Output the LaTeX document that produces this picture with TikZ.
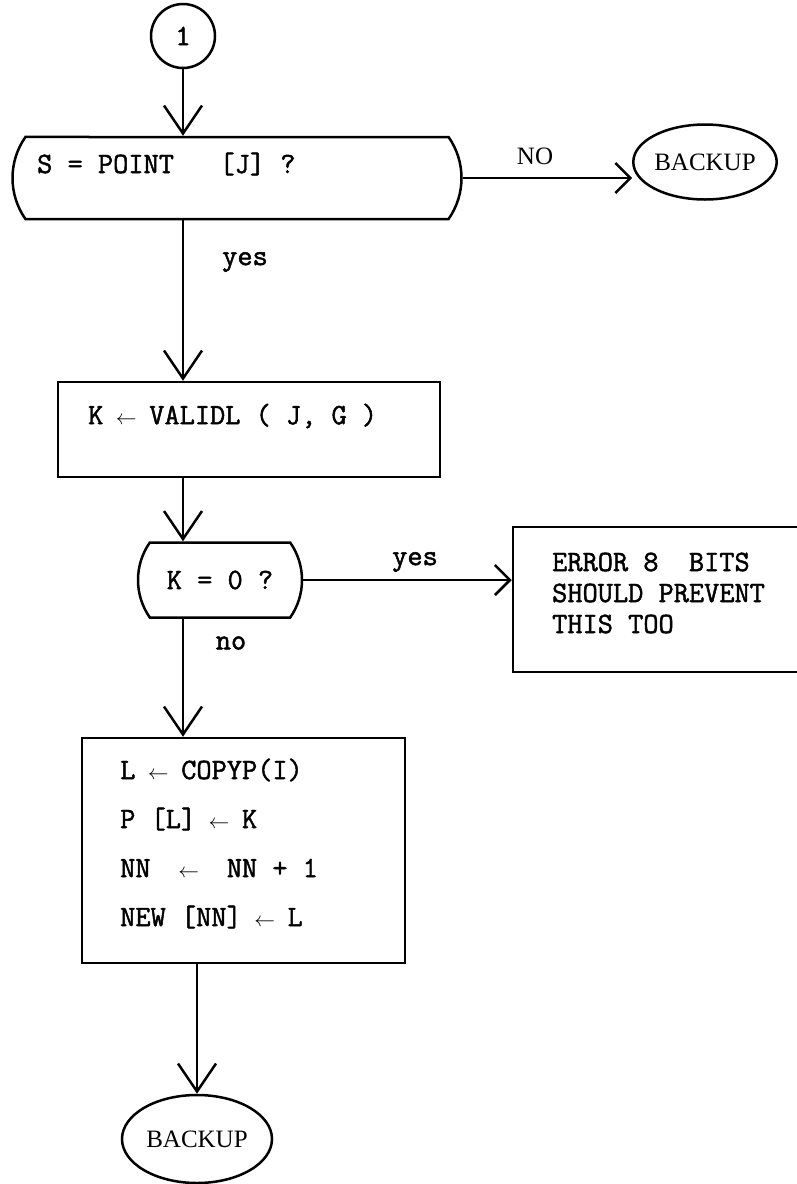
\documentclass[tikz,border=0pt]{standalone}
\usepackage{fontspec}
\setmainfont{Liberation Serif}
\setmonofont[FakeBold=1.6]{Latin Modern Mono}
\usetikzlibrary{arrows.meta,shapes.geometric,shapes.misc}
\newcommand{\lar}{\makebox[0.525em]{$\scriptstyle\leftarrow$}}
\tikzset{
  line/.style={line width=2.5pt},
  arr/.style={line,-{Straight Barb[length=28pt,width=38pt,line width=2.5pt]}},
  harr/.style={line,-{Straight Barb[length=15pt,width=30pt,line width=2.5pt]}},
  txt/.style={font=\fontsize{29.5}{31}\selectfont\ttfamily,inner sep=0pt},
  lbl/.style={font=\fontsize{25}{29}\selectfont,inner sep=0pt},
  decide/.style={line,draw,rounded rectangle,rounded rectangle arc length=70,inner sep=0pt},
  procbox/.style={line,draw,rectangle,inner sep=0pt},
  term/.style={line,draw,ellipse,inner sep=0pt}
}
\begin{document}
\begin{tikzpicture}[x=1pt,y=-1pt]
  \useasboundingbox (0,0) rectangle (796,1184);
  \node[line,draw,circle,minimum size=64pt,txt] (c1) at (183,36) {1};
  \node[decide,minimum width=449pt,minimum height=82pt] (s1) at (237,178) {};
  \node[txt,anchor=west] (s1t) at (37,164) {S = POINT~~~[J] ?};
  \node[lbl] (no1) at (535,156) {NO};
  \node[term,lbl,minimum width=136pt,minimum height=75pt] (b1) at (705,162) {BACKUP};
  \draw[arr] (c1) -- (c1 |- s1.north);
  \draw[harr] (s1.east) -- (s1.east -| b1.west);
  \node[txt] (yes1) at (245,262) {yes};
  \node[procbox,minimum width=382pt,minimum height=95pt] (p1) at (249,429.5) {};
  \node[txt,anchor=west] (p1t) at (88,416) {K \lar{} VALIDL ( J, G )};
  \draw[arr] (s1.south -| c1) -- (c1 |- p1.north);
  \node[decide,txt,minimum width=164pt,minimum height=75pt] (d1) at (220,580) {K = 0 ?};
  \draw[arr] (p1.south -| c1) -- (c1 |- d1.north);
  \node[procbox,minimum width=320pt,minimum height=145pt] (e1) at (673,599.5) {};
  \node[txt,anchor=west,align=left] (e1t) at (552,593) {ERROR 8~~BITS\\SHOULD PREVENT\\THIS TOO};
  \node[txt] (yes2) at (415,562) {yes};
  \draw[harr] (d1.east) -- (d1.east -| e1.west);
  \node[txt] (no2) at (231,643) {no};
  \node[procbox,minimum width=323pt,minimum height=225pt] (p2) at (243.5,850.5) {};
  \foreach \s [count=\i] in {{L \lar{} COPYP(I)},{P [L] \lar{} K},{NN~~\lar~~NN + 1},{NEW [NN] \lar{} L}}
    \node[txt,anchor=west] (p2t\i) at (120,721+49*\i) {\s};
  \draw[arr] (d1.south -| c1) -- (c1 |- p2.north);
  \node[term,lbl,minimum width=150pt,minimum height=88pt] (b2) at (197,1139) {BACKUP};
  \draw[arr] (p2.south -| b2) -- (b2);
\end{tikzpicture}
\end{document}
